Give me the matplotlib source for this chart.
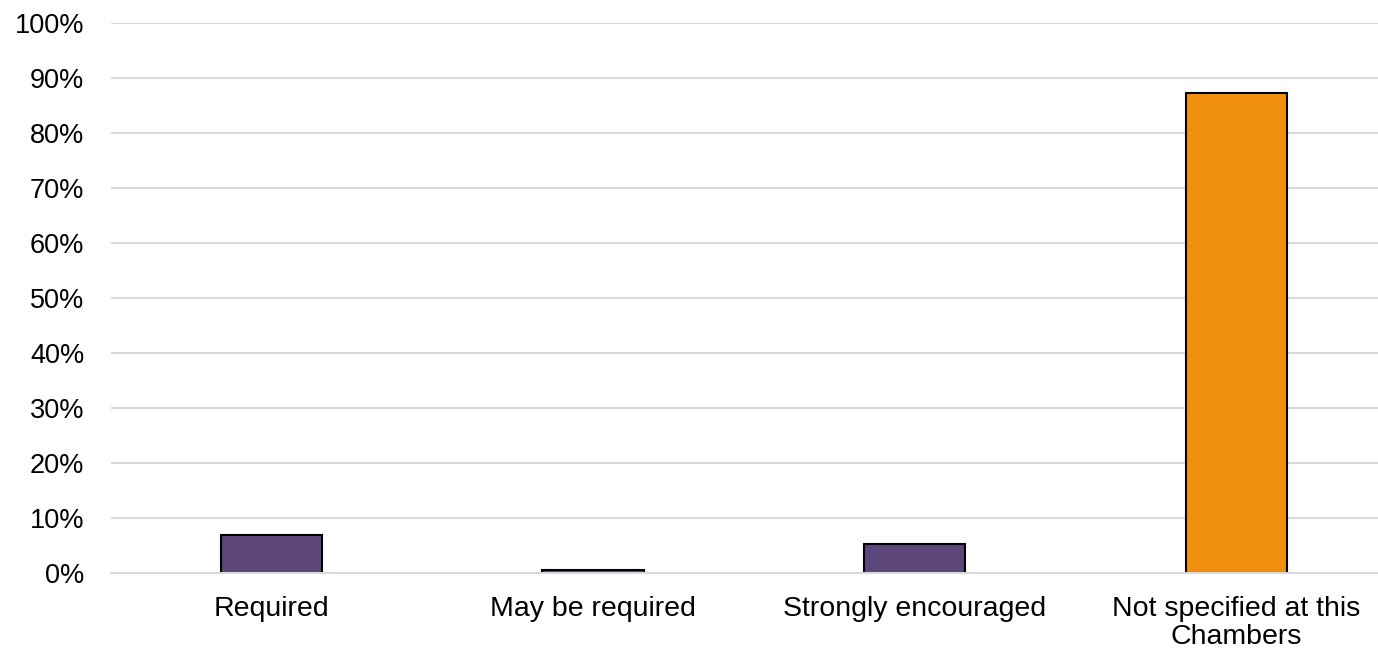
import numpy as np
import matplotlib.pyplot as plt
from matplotlib.ticker import PercentFormatter

plt.rcParams['font.family'] = ['Liberation Sans', 'DejaVu Sans']

# Share of chambers by requirement level
categories = ['Required', 'May be required', 'Strongly encouraged',
              'Not specified at this\nChambers']
shares = [6.9, 0.6, 5.2, 87.3]
colours = ['#5c4679', '#5c4679', '#5c4679', '#f0900c']

fig = plt.figure(figsize=(13.78, 6.52), dpi=100)
ax = fig.add_axes([0.0804, 0.1212, 0.9334, 0.8436])

x = np.arange(len(categories))
ax.bar(x, shares, width=0.315, color=colours, edgecolor='black',
       linewidth=1.5, zorder=2)

ax.set_xlim(-0.5, len(categories) - 0.5)
ax.set_ylim(0, 100)
ax.set_yticks(np.arange(0, 101, 10))
ax.yaxis.set_major_formatter(PercentFormatter(decimals=0))
ax.set_xticks(x)
ax.set_xticklabels(categories, linespacing=1.12)

ax.set_axisbelow(True)
ax.grid(axis='y', color='#d9d9d9', linewidth=1.5)
for side in ['top', 'right', 'left']:
    ax.spines[side].set_visible(False)
ax.spines['bottom'].set_color('#d9d9d9')
ax.spines['bottom'].set_linewidth(1.5)
ax.spines['bottom'].set_zorder(3)

ax.tick_params(axis='both', length=0, colors='black')
ax.tick_params(axis='x', labelsize=20.5, pad=16.5)
ax.tick_params(axis='y', labelsize=19.5, pad=19)

fig.savefig('out.png', dpi=100)
